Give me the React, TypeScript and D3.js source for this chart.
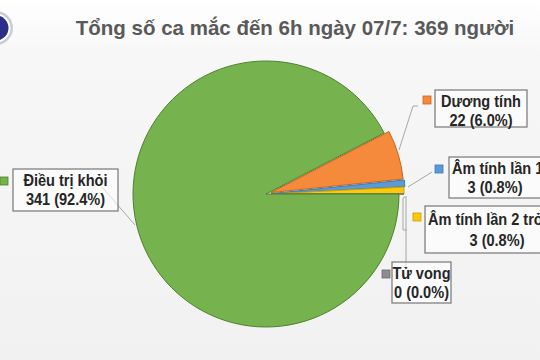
import React from "react";
import * as d3 from "d3";

const categories = ["Dương tính", "Âm tính lần 1", "Âm tính lần 2 trở", "Tử vong", "Điều trị khỏi"];
const values = [22, 3, 3, 0, 341];
const percentLabels = ["6.0%", "0.8%", "0.8%", "0.0%", "92.4%"];
const colors = ["#F58A3C", "#5B9BD5", "#FFC80A", "#8C8C8C", "#76B34E"];
const strokeColors = ["#C8631F", "#3E78AE", "#C9A000", "#6d6d6d", "#4F7F30"];
const title = "Tổng số ca mắc đến 6h ngày 07/7: 369 người";

const W = 540;
const H = 360;
const cx = 266;
const cy = 194;
const R = 133;

// label layout: [boxX, boxY, boxW, boxH, markerX, markerY]
const labelBoxes = [
  [435, 90, 92, 37, 423, 96],
  [449, 157, 98, 41, 435, 165],
  [425, 206, 130, 47, 413, 213],
  [392, 262, 59, 41, 382, 270],
  [13, 169, 105, 42, 0, 177],
];
// leader lines
const leaders = [
  [[399, 150], [413, 106], [418, 106]],
  [[408, 187], [432, 172]],
  [[405, 197], [403, 198], [403, 230], [407, 230]],
  [[406, 196], [406, 270]],
  [[135, 225], [102, 187]],
];

export default function App() {
  const total = d3.sum(values);
  const smallSum = d3.sum(values.slice(0, 4));
  const start = Math.PI / 2 - (smallSum / total) * 2 * Math.PI;
  const pie = d3
    .pie<number>()
    .sort(null)
    .value((d) => d)
    .startAngle(start)
    .endAngle(start + 2 * Math.PI);
  const arcs = pie(values);
  const arc = d3.arc<d3.PieArcDatum<number>>().innerRadius(0).outerRadius(R);
  const explode = [5, 6, 5, 5, 0];

  const font = "'Liberation Sans', Arial, sans-serif";
  const sx = 0.91;

  return (
    <svg
      width={W}
      height={H}
      style={{ position: "absolute", left: 0, top: 0 }}
      xmlns="http://www.w3.org/2000/svg"
    >
      <defs>
        <linearGradient id="bg" x1="0" y1="0" x2="0" y2="1">
          <stop offset="0" stopColor="#ffffff" />
          <stop offset="0.15" stopColor="#f7f7f7" />
          <stop offset="1" stopColor="#f1f1f1" />
        </linearGradient>
      </defs>
      <rect x={0} y={0} width={W} height={H} fill="url(#bg)" />
      {/* logo */}
      <circle cx={-4} cy={28} r={17} fill="#c9cbd6" />
      <circle cx={-4} cy={28} r={14.5} fill="#ffffff" />
      <circle cx={-4} cy={28} r={12.5} fill="#2b2f8a" />
      <text
        x={295}
        y={35}
        textAnchor="middle"
        fontFamily={font}
        fontWeight="bold"
        fontSize={20.5}
        fill="#595959"
      >
        {title}
      </text>
      <g>
        {arcs.map((a, i) => {
          const mid = (a.startAngle + a.endAngle) / 2;
          const dx = Math.sin(mid) * explode[i];
          const dy = -Math.cos(mid) * explode[i];
          return (
            <path
              key={i}
              d={arc(a) || ""}
              transform={`translate(${cx + dx},${cy + dy})`}
              fill={colors[i]}
              stroke={strokeColors[i]}
              strokeWidth={1}
            />
          );
        })}
      </g>
      {leaders.map((pts, i) => (
        <polyline
          key={i}
          points={pts.map((p) => p.join(",")).join(" ")}
          fill="none"
          stroke="#a6a6a6"
          strokeWidth={1}
        />
      ))}
      {categories.map((c, i) => {
        const [bx, by, bw, bh, mx, my] = labelBoxes[i];
        const tx = bx + bw / 2;
        const left = i === 1 || i === 2;
        const x1 = left ? bx + 3 : tx;
        const y1 = by + 17 + (i === 2 ? 2 : 0);
        const x2 = left ? bx + 46 + (i === 2 ? 26 : 0) : tx;
        const y2 = by + 36 + (i === 2 ? 4 : 0);
        return (
          <g key={i}>
            <rect
              x={bx}
              y={by}
              width={bw}
              height={bh}
              fill="#ffffff"
              fillOpacity={0.6}
              stroke="#808080"
              strokeWidth={1.3}
            />
            <rect x={mx} y={my} width={8} height={8} fill={colors[i]} stroke={strokeColors[i]} strokeWidth={0.8} />
            <text
              transform={`translate(${x1},${y1}) scale(${sx},1)`}
              textAnchor={left ? "start" : "middle"}
              fontFamily={font}
              fontWeight="bold"
              fontSize={16}
              fill="#262626"
            >
              {c}
            </text>
            <text
              transform={`translate(${x2},${y2}) scale(${sx},1)`}
              textAnchor="middle"
              fontFamily={font}
              fontWeight="bold"
              fontSize={16}
              fill="#262626"
            >
              {`${values[i]} (${percentLabels[i]})`}
            </text>
          </g>
        );
      })}
    </svg>
  );
}
